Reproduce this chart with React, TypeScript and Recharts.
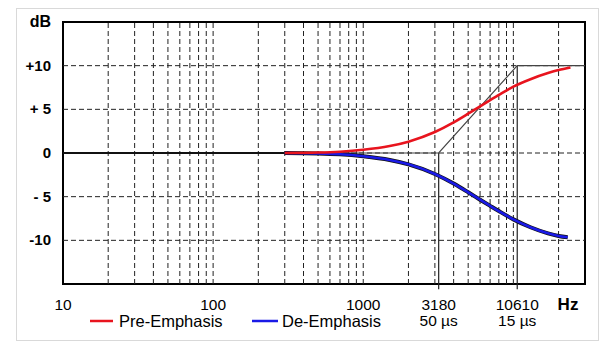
import React from 'react';
import { LineChart, Line, XAxis, YAxis, ReferenceLine, ReferenceArea } from 'recharts';

// frequencies (Hz) of the dashed vertical grid lines
const GRID_FREQS = [
    20, 30, 40, 50, 60, 70, 80, 90, 100,
    200, 300, 400, 500, 600, 700, 800, 900, 1000,
    2000, 3000, 4000, 5000, 6000, 7000, 8000, 9000, 10000,
    20000,
];
const GRID_DB = [10, 5, 0, -5, -10];

const X_TICKS = [10, 100, 1000, 3180, 10610];
const X_TICK_LABELS = ['10', '100', '1000', '3180', '10610'];
const X_TICK_SUBLABELS = ['', '', '', '50 µs', '15 µs'];

const Y_TICKS = [15, 10, 5, 0, -5, -10];
const Y_TICK_LABELS = ['dB', '+10', '+ 5', '0', '- 5', '-10'];

// pre-emphasis curve
const PRE_FREQ = [300, 500, 700, 1000, 1500, 2000, 3000, 4000, 5000, 6000, 7000, 8000, 10000, 13000, 17000, 20000, 24000];
const PRE_DB = [0, 0.05, 0.15, 0.37, 0.8, 1.3, 2.4, 3.5, 4.5, 5.35, 6.05, 6.65, 7.6, 8.45, 9.15, 9.5, 9.8];

// de-emphasis curve
const DE_FREQ = [300, 500, 700, 1000, 1500, 2000, 3000, 4000, 5000, 6000, 7000, 8000, 10000, 13000, 17000, 20000, 23000];
const DE_DB = [0, -0.05, -0.15, -0.38, -0.8, -1.3, -2.4, -3.5, -4.5, -5.35, -6.05, -6.65, -7.6, -8.5, -9.2, -9.5, -9.65];

// flat reference and straight-line asymptote
const FLAT_FREQ = [10, 300];
const FLAT_DB = [0, 0];
const ASYM_FREQ = [300, 3180, 10610, 30000];
const ASYM_DB = [0, 0, 10, 10];

const toPoints = (freqs: number[], dbs: number[]) => freqs.map((f, i) => ({ f, db: dbs[i] }));

const FONT = '"Liberation Sans", Arial, sans-serif';

const FreqTick = (props: any) => {
    const { x, y, payload } = props;
    const i = X_TICKS.indexOf(payload.value);
    return (
        <g>
            <text x={x} y={y + 11} textAnchor="middle" fontSize={15.5} fill="#000" fontFamily={FONT}>
                {X_TICK_LABELS[i]}
            </text>
            {X_TICK_SUBLABELS[i] && (
                <text x={x} y={y + 27} textAnchor="middle" fontSize={15.5} fill="#000" fontFamily={FONT}>
                    {X_TICK_SUBLABELS[i]}
                </text>
            )}
        </g>
    );
};

const DbTick = (props: any) => {
    const { x, y, payload } = props;
    const i = Y_TICKS.indexOf(payload.value);
    return (
        <text x={x} y={y + 5} textAnchor="end" fontSize={i === 0 ? 16 : 15} fontWeight="bold" fill="#000" fontFamily={FONT}>
            {Y_TICK_LABELS[i]}
        </text>
    );
};

export default function App() {
    const pre = toPoints(PRE_FREQ, PRE_DB);
    const de = toPoints(DE_FREQ, DE_DB);
    const flat = toPoints(FLAT_FREQ, FLAT_DB);
    const asym = toPoints(ASYM_FREQ, ASYM_DB);

    return (
        <div style={{ position: 'absolute', left: 0, top: 0, width: 614, height: 353, background: '#fff', fontFamily: FONT }}>
            {/* outer frame */}
            <div style={{ position: 'absolute', left: 16, top: 8, width: 583, height: 333, border: '1px solid #d9d9d9', boxSizing: 'border-box' }} />

            <div style={{ position: 'absolute', left: 0, top: 0 }}>
                <LineChart width={614} height={353} margin={{ top: 22, right: 29, bottom: 39, left: 13 }}>
                    <XAxis
                        dataKey="f"
                        type="number"
                        scale="log"
                        domain={[10, 30000]}
                        allowDataOverflow
                        ticks={X_TICKS}
                        tick={<FreqTick />}
                        tickLine={false}
                        axisLine={false}
                        tickSize={6}
                        tickMargin={9}
                        height={30}
                        interval={0}
                    />
                    <YAxis
                        type="number"
                        domain={[-15, 15]}
                        allowDataOverflow
                        ticks={Y_TICKS}
                        tick={<DbTick />}
                        tickLine={false}
                        axisLine={false}
                        tickSize={6}
                        tickMargin={6}
                        width={50}
                        interval={0}
                    />

                    {/* dashed grid */}
                    {GRID_FREQS.map(f => (
                        <ReferenceLine key={`v${f}`} x={f} stroke="#222" strokeWidth={1} strokeDasharray="5 3" />
                    ))}
                    {GRID_DB.map(d => (
                        <ReferenceLine key={`h${d}`} y={d} stroke="#222" strokeWidth={1} strokeDasharray="5 3" />
                    ))}

                    {/* turnover markers */}
                    <ReferenceLine segment={[{ x: 3180, y: 0 }, { x: 3180, y: -15.6 }]} stroke="#222" strokeWidth={1.2} ifOverflow="visible" />
                    <ReferenceLine segment={[{ x: 10610, y: 10 }, { x: 10610, y: -15.6 }]} stroke="#222" strokeWidth={1.2} ifOverflow="visible" />

                    <Line data={flat} dataKey="db" type="linear" stroke="#111" strokeWidth={2} dot={false} isAnimationActive={false} />
                    <Line data={asym} dataKey="db" type="linear" stroke="#444" strokeWidth={1.2} dot={false} isAnimationActive={false} />

                    <Line data={de} dataKey="db" type="monotone" stroke="#111" strokeWidth={4} dot={false} isAnimationActive={false} />
                    <Line data={de} dataKey="db" type="monotone" stroke="#1a1ae6" strokeWidth={2.6} dot={false} isAnimationActive={false} />
                    <Line data={pre} dataKey="db" type="monotone" stroke="#e8141e" strokeWidth={2.6} dot={false} isAnimationActive={false} />

                    {/* plot border */}
                    <ReferenceArea x1={10} x2={30000} y1={-15} y2={15} fill="none" stroke="#000" strokeWidth={2} ifOverflow="visible" />
                </LineChart>
            </div>

            {/* unit label and legend */}
            <svg width={614} height={353} style={{ position: 'absolute', left: 0, top: 0, pointerEvents: 'none' }}>
                <text x={568} y={310} textAnchor="middle" fontSize={17} fontWeight="bold" fill="#000" fontFamily={FONT}>Hz</text>
                <line x1={90} x2={113} y1={321} y2={321} stroke="#e8141e" strokeWidth={2.5} />
                <text x={119} y={327} fontSize={16.5} fill="#000" fontFamily={FONT}>Pre-Emphasis</text>
                <line x1={252} x2={278} y1={321} y2={321} stroke="#1a1ae6" strokeWidth={2.5} />
                <text x={282} y={327} fontSize={16.5} fill="#000" fontFamily={FONT}>De-Emphasis</text>
            </svg>
        </div>
    );
}
